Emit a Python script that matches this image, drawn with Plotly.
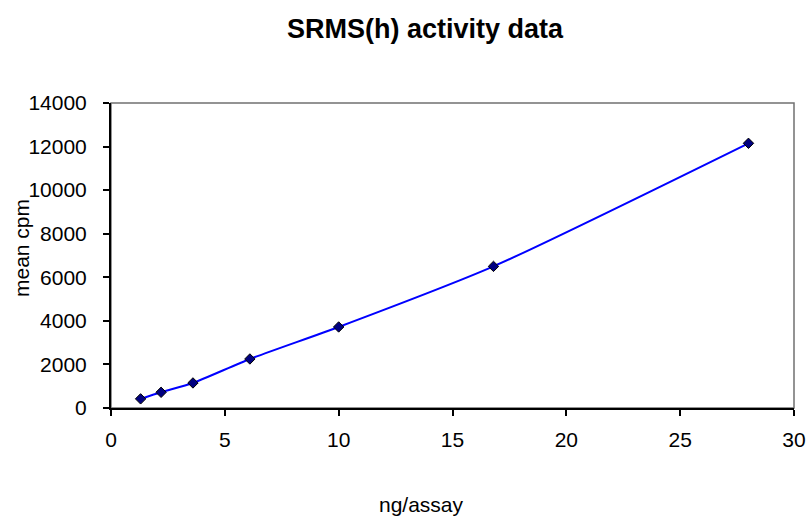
import plotly.graph_objects as go

ng_per_assay = [1.3, 2.2, 3.6, 6.1, 10.0, 16.8, 28.0]
mean_cpm = [420, 720, 1150, 2250, 3720, 6500, 12150]

x_ticks = [0, 5, 10, 15, 20, 25, 30]
y_ticks = [0, 2000, 4000, 6000, 8000, 10000, 12000, 14000]

FONT = "Liberation Sans, Arial, sans-serif"

W, H = 808, 518
# plot area in the page (pixels): left 111, right 794, top 103, bottom 408
PL, PR, PT, PB = 111, 794, 103, 408
PW, PH = PR - PL, PB - PT

fig = go.Figure()
fig.add_trace(go.Scatter(
    x=ng_per_assay, y=mean_cpm,
    mode="lines+markers",
    line=dict(color="#0000FF", width=2, shape="spline", smoothing=0.6),
    marker=dict(symbol="diamond", size=8, color="#000080",
                line=dict(color="#000000", width=1)),
    showlegend=False,
))

fig.update_layout(
    width=W, height=H,
    margin=dict(l=PL, r=W - PR, t=PT, b=H - PB),
    paper_bgcolor="white", plot_bgcolor="white",
    font=dict(family=FONT, size=21, color="#000000"),
    title=dict(text="<b>SRMS(h) activity data</b>", x=425 / W, xref="container",
               xanchor="center", y=1 - 29 / H, yref="container", yanchor="middle",
               font=dict(family=FONT, size=27, color="#000000")),
    shapes=[dict(type="rect", xref="paper", yref="paper", x0=0, x1=1, y0=0, y1=1,
                 line=dict(color="#707070", width=1.5), layer="below")],
    annotations=[
        dict(text="ng/assay", xref="paper", yref="paper",
             x=(421 - PL) / PW, y=-(491 - PB) / PH,
             xanchor="center", yanchor="top", showarrow=False,
             font=dict(family=FONT, size=21, color="#000000")),
        dict(text="mean cpm", xref="paper", yref="paper", textangle=-90,
             x=(21 - PL) / PW, y=(PB - 248) / PH,
             xanchor="center", yanchor="middle", showarrow=False,
             font=dict(family=FONT, size=21, color="#000000")),
    ],
)

fig.update_xaxes(
    range=[0, 30], tickvals=x_ticks, ticktext=[str(v) for v in x_ticks],
    showgrid=False, zeroline=False, automargin=False,
    showline=True, linecolor="#000000", linewidth=2,
    ticks="outside", ticklen=6, tickwidth=1.5, tickcolor="#000000",
    tickfont=dict(family=FONT, size=21),
    ticklabelstandoff=6,
)
fig.update_yaxes(
    range=[0, 14000], tickvals=y_ticks, ticktext=[str(v) for v in y_ticks],
    showgrid=False, zeroline=False, automargin=False,
    showline=True, linecolor="#000000", linewidth=2,
    ticks="outside", ticklen=6, tickwidth=1.5, tickcolor="#000000",
    tickfont=dict(family=FONT, size=21),
    ticklabelstandoff=12,
)

fig.write_html(
    "out.html",
    config={"displayModeBar": False},
    post_script="document.body.style.margin='0';document.body.style.overflow='hidden';",
)
